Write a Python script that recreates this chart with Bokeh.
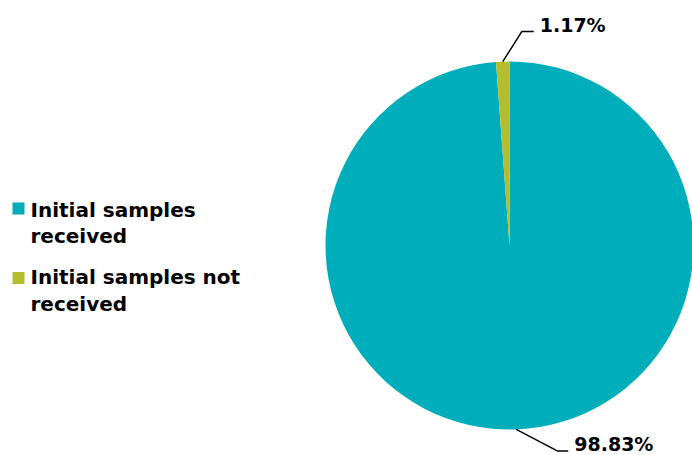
import math
from bokeh.plotting import figure
from bokeh.models import Range1d, ColumnDataSource
from bokeh.core.properties import value
from bokeh.embed import file_html
from bokeh.resources import INLINE

categories = ["Initial samples\nreceived", "Initial samples not\nreceived"]
shares = [98.83, 1.17]
pct_labels = ["98.83%", "1.17%"]
colors = ["#00ADBB", "#B5BD2F"]

W, H = 692, 455
p = figure(width=W, height=H, output_backend="svg", toolbar_location=None,
           x_range=Range1d(0, W), y_range=Range1d(0, H),
           min_border=0, outline_line_color=None)
p.axis.visible = False
p.grid.visible = False
p.background_fill_color = "white"

cx, cy, r = 509, 210, 184
FONT = value("DejaVu Sans")

total = sum(shares)
starts, ends, mids = [], [], []
a = math.pi / 2
for s in shares:
    sweep = 2 * math.pi * s / total
    starts.append(a)
    ends.append(a - sweep)
    mids.append(a - sweep / 2)
    a -= sweep

src = ColumnDataSource(dict(start=starts, end=ends, color=colors))
p.wedge(x=cx, y=cy, radius=r, start_angle="start", end_angle="end",
        direction="clock", fill_color="color", line_color=None, source=src)

# leader lines and data labels
label_cfg = [
    # (elbow dx, elbow dy from edge point, horizontal length, text offset)
    (41, -21.5, 11, 6),
    (19, 30, 12, 6),
]
for i, (ang, lab) in enumerate(zip(mids, pct_labels)):
    ex = cx + r * math.cos(ang)
    ey = cy + r * math.sin(ang)
    dx, dy, hl, to = label_cfg[i]
    bx, by = ex + dx, ey + dy
    hx = bx + hl
    p.line([ex, bx, hx], [ey, by, by], line_color="black", line_width=1.5)
    p.text(x=[hx + to], y=[by + 7], text=[lab], text_font=FONT,
           text_font_style="bold", text_font_size="19px",
           text_baseline="middle", text_align="left", text_color="black")

# legend
leg_y = [455 - 208, 455 - 277.5]
leg_dy = [11, 13]
for i, (cat, col) in enumerate(zip(categories, colors)):
    p.rect(x=[18], y=[leg_y[i]], width=12, height=12, fill_color=col,
           line_color=None)
    p.text(x=[30], y=[leg_y[i] + leg_dy[i]], text=[cat], text_font=FONT,
           text_font_style="bold", text_font_size="20px",
           text_baseline="top", text_align="left", text_color="black",
           text_line_height=1.12)

open("out.html", "w").write(file_html(p, INLINE))
